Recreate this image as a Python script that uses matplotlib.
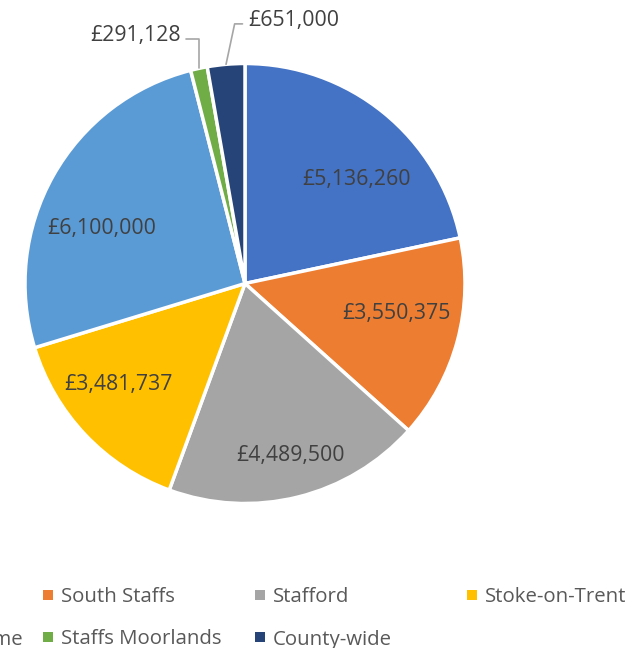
import numpy as np
import matplotlib
matplotlib.use('Agg')
import matplotlib.pyplot as plt
from matplotlib.lines import Line2D
from matplotlib.transforms import ScaledTranslation

# funding by area (first legend entry is cut off in the source image)
regions = ['East Staffs', 'South Staffs', 'Stafford', 'Stoke-on-Trent',
           'Newcastle-u-Lyme', 'Staffs Moorlands', 'County-wide']
funding = [5136260, 3550375, 4489500, 3481737, 6100000, 291128, 651000]
colours = ['#4472C4', '#ED7D31', '#A5A5A5', '#FFC000',
           '#5B9BD5', '#70AD47', '#264478']

plt.rcParams['font.family'] = ['Open Sans', 'DejaVu Sans']

W, H = 636, 648
fig = plt.figure(figsize=(W / 100, H / 100), dpi=100)

# pie centre at (245, 283.5) px, radius 220 px
ax = fig.add_axes([25 / W, (H - 283.5 - 220) / H, 440 / W, 440 / H])
wedges, _ = ax.pie(funding, colors=colours, startangle=90, counterclock=False,
                   wedgeprops=dict(edgecolor='white', linewidth=2.5))
ax.set_xlim(-1, 1)
ax.set_ylim(-1, 1)
ax.set_aspect('equal')

# label placement like excel "best fit": (radius, angle nudge in deg)
inside = {0: (0.70, -7.3), 1: (0.70, 4.5), 2: (0.80, 1.1),
          3: (0.73, -5.2), 4: (0.70, 7.8)}
# small slices get callouts: (offset px, alignment, leader angle)
outside = {5: ((-18, 33), 'right', 90), 6: ((22, 44), 'left', 78)}

# nudge text down a touch so the digits sit centred
down = ax.transData + ScaledTranslation(0, -0.02, fig.dpi_scale_trans)

for i, w in enumerate(wedges):
    mid = np.deg2rad((w.theta1 + w.theta2) / 2)
    txt = f'£{funding[i]:,}'
    if i in inside:
        r, shift = inside[i]
        a = mid + np.deg2rad(shift)
        ax.text(r * np.cos(a), r * np.sin(a), txt, ha='center', va='center',
                fontsize=15.3, color='#404040', transform=down)
    else:
        off, ha, angB = outside[i]
        ax.annotate(txt, xy=(np.cos(mid), np.sin(mid)), xytext=off,
                    textcoords='offset pixels', ha=ha, va='center',
                    fontsize=15.3, color='#404040',
                    arrowprops=dict(arrowstyle='-', color='#A6A6A6', lw=1.2,
                                    shrinkA=2, shrinkB=0,
                                    relpos=(1 if ha == 'right' else 0, 0.33),
                                    connectionstyle=f'angle,angleA=0,angleB={angB},rad=0'))

# legend laid out on a fixed grid, the left column runs off the image
pitch = 212
rows_y = [597, 639.5]
for i, (name, c) in enumerate(zip(regions, colours)):
    row, col = divmod(i, 4)
    x = -168 + col * pitch
    h = Line2D([], [], ls='none', marker='s', markersize=6.5,
               markerfacecolor=c, markeredgewidth=0)
    fig.legend(handles=[h], labels=[name], loc='center left',
               bbox_to_anchor=(x / W, 1 - rows_y[row] / H),
               frameon=False, borderpad=0, borderaxespad=0,
               handlelength=0.44, handletextpad=0.38,
               fontsize=14.7, labelcolor='#595959')

fig.savefig('out.png', dpi=100)
